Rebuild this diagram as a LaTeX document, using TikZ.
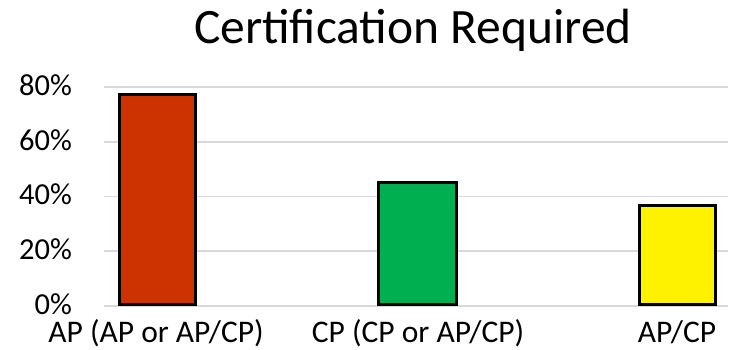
\documentclass[tikz,border=0pt]{standalone}
\usepackage{fontspec}
\setmainfont{Carlito}
\definecolor{barred}{HTML}{CC3300}
\definecolor{bargreen}{HTML}{00B050}
\definecolor{baryellow}{HTML}{FFF200}
\definecolor{gridgray}{HTML}{D9D9D9}
\tikzset{
  gridline/.style={draw=gridgray, line width=1.8pt},
  barbox/.style={draw=black, line width=3pt},
  ticklbl/.style={anchor=base east, inner sep=0pt, font=\fontsize{30.5}{30.5}\selectfont},
  catlbl/.style={anchor=base, inner sep=0pt, font=\fontsize{31.5}{31.5}\selectfont},
  titlelbl/.style={anchor=base, inner sep=0pt, font=\fontsize{49.5}{49.5}\selectfont}
}
\begin{document}
\begin{tikzpicture}[x=1pt,y=-1pt]
\useasboundingbox[fill=white] (0,0) rectangle (730,349);
% gridlines
\foreach \v/\n in {0/g0,20/g20,40/g40,60/g60,80/g80}{
  \coordinate (\n l) at (104,{306-2.74*\v});
  \coordinate (\n r) at (728,{306-2.74*\v});
  \draw[gridline] (\n l) -- (\n r);
  \node[ticklbl] (t\n) at (72,{306-2.74*\v+8.5}) {\v\%};
}
% bars
\draw[barbox, fill=barred] (119.5,304.5) rectangle (195.5,94.2);
\draw[barbox, fill=bargreen] (378.2,304.5) rectangle (456.2,182.2);
\draw[barbox, fill=baryellow] (639.5,304.5) rectangle (715.2,205.8);
% category labels
\node[catlbl] (c1) at (156,342.5) {AP (AP or AP/CP)};
\node[catlbl] (c2) at (418,342.5) {CP (CP or AP/CP)};
\node[catlbl] (c3) at (677,342.5) {AP/CP};
% title
\node[titlelbl] (title) at (413,43) {Certification Required};
\end{tikzpicture}
\end{document}
